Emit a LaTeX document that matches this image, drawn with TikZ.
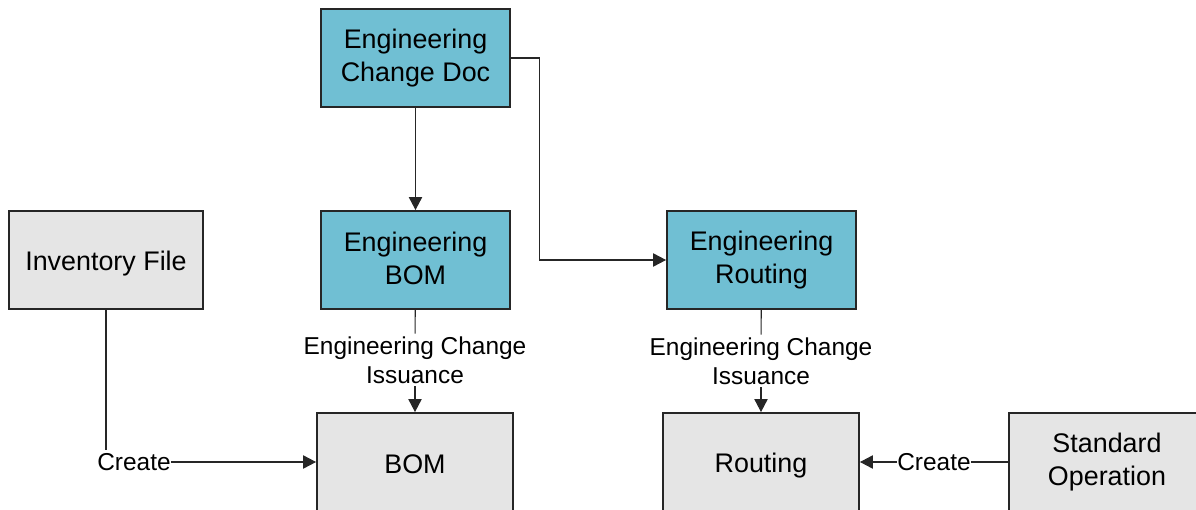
\documentclass[tikz,border=0pt]{standalone}
\usepackage{fontspec}
\setmainfont{Liberation Sans}
\usepackage{tikz}
\usetikzlibrary{arrows.meta}
\definecolor{engblue}{HTML}{70BFD3}
\definecolor{filegray}{HTML}{E5E5E5}
\newcommand{\linestrut}{\rule[-0.14em]{0pt}{1.11em}}

\begin{document}
\begin{tikzpicture}[x=0.02cm, y=-0.02cm,
    box/.style={draw=black!85, line width=1.1pt, minimum width=3.78cm, minimum height=1.96cm,
        align=center, inner sep=2pt, execute at begin node=\linestrut, execute at end node=\linestrut,
        font=\fontsize{15.3}{18.4}\selectfont},
    engbox/.style={box, fill=engblue},
    filebox/.style={box, fill=filegray},
    lbl/.style={align=center, inner sep=1.5pt, font=\fontsize{13.9}{16.5}\selectfont},
    conn/.style={draw=black!85, line width=0.6pt},
    arr/.style={conn, -{Triangle[length=7.4pt, width=7.6pt]}}]
    \useasboundingbox (0, 0) rectangle (1196, 510);
    %the boxes
    \node[engbox] (ecd) at (415.5, 58) {Engineering\\Change Doc};
    \node[engbox] (ebom) at (415.5, 260) {Engineering\\BOM};
    \node[engbox] (erout) at (761.5, 260) {Engineering\\Routing};
    \node[filebox, minimum width=3.88cm] (inv) at (106, 260) {Inventory File};
    \node[filebox, minimum width=3.92cm] (bom) at (415, 462) {BOM};
    \node[filebox, minimum width=3.92cm] (rout) at (761, 462) {Routing};
    \node[filebox, minimum width=3.92cm] (stdop) at (1107, 462) {Standard\\Operation};
    %the labels
    \node[lbl, inner xsep=0pt] (cra) at (134, 462) {Create};
    \node[lbl, inner xsep=0pt] (crb) at (934, 462) {Create};
    \node[lbl] (ecia) at (415, 360) {Engineering Change\\Issuance};
    \node[lbl] (ecib) at (761, 361) {Engineering Change\\Issuance};
    %the lines
    \draw[arr] (ecd) -- (ebom);
    \draw[arr] (ecd.east) -- ++(29, 0) |- (erout.west);
    \draw[conn] (ebom) -- (ecia);
    \draw[arr] (ecia) -- (bom);
    \draw[conn] (erout) -- (ecib);
    \draw[arr] (ecib) -- (rout);
    \draw[conn] (inv) -- (inv |- cra.north);
    \draw[arr] (cra) -- (bom);
    \draw[conn] (stdop) -- (crb);
    \draw[arr] (crb) -- (rout);
\end{tikzpicture}
\end{document}
